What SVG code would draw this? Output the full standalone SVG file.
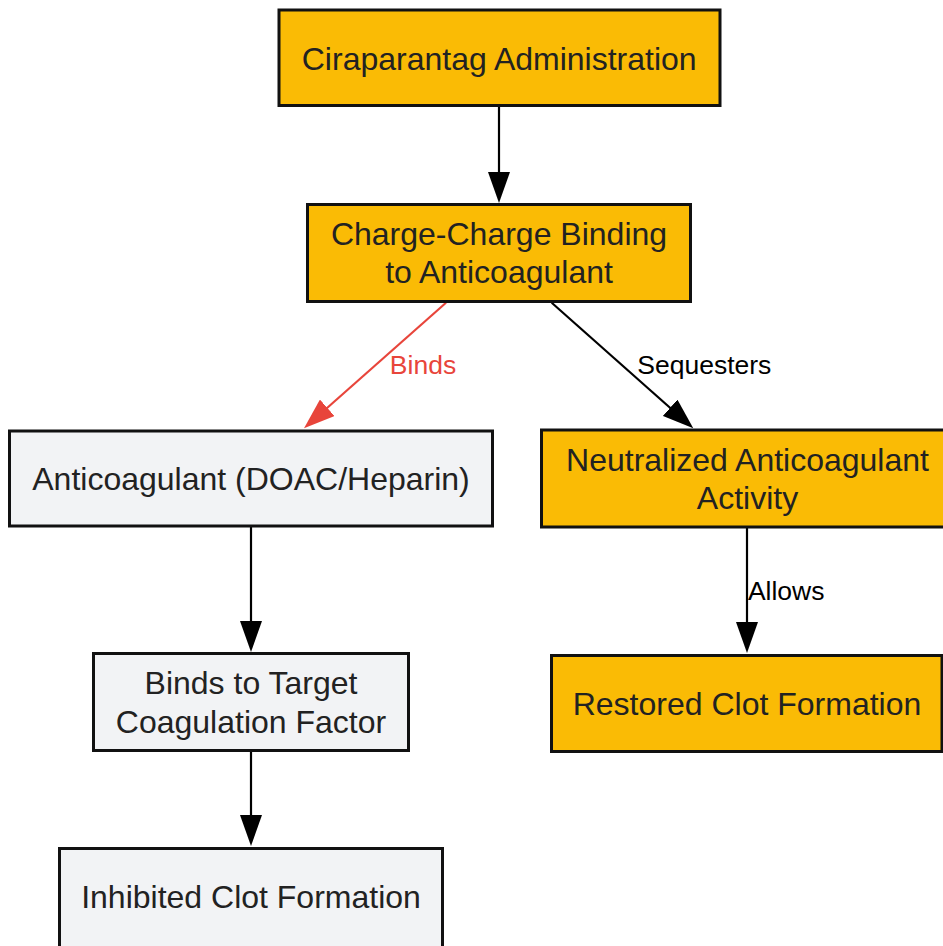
<svg xmlns="http://www.w3.org/2000/svg" width="943" height="946" viewBox="0 0 943 946">
<style>
.bg{fill:#ffffff}
.acc rect{fill:#FABB05;stroke:#111;stroke-width:3}
.neu rect{fill:#F2F3F5;stroke:#111;stroke-width:3}
.nt{font-family:"Liberation Sans",Arial,sans-serif;font-size:32px;fill:#222;text-anchor:middle}
.lbl{font-family:"Liberation Sans",Arial,sans-serif;font-size:26.5px;fill:#000;text-anchor:middle}
.e{stroke:#000;stroke-width:2.2;fill:none}
.er{stroke:#E8453B;stroke-width:2.2;fill:none}
</style>
<defs>
<marker id="ah" markerUnits="userSpaceOnUse" markerWidth="31" markerHeight="22" refX="21" refY="11" orient="auto">
<path d="M0,0 L31,11 L0,22 Z" fill="#000"/>
</marker>
<marker id="ahr" markerUnits="userSpaceOnUse" markerWidth="31" markerHeight="22" refX="21" refY="11" orient="auto">
<path d="M0,0 L31,11 L0,22 Z" fill="#E8453B"/>
</marker>
</defs>
<rect class="bg" x="0" y="0" width="943" height="946"/>
<g id="connectors">
<line class="e" x1="499" y1="106" x2="499" y2="193" marker-end="url(#ah)"/>
<line class="er" x1="446" y1="302.7" x2="311.5" y2="421.7" marker-end="url(#ahr)"/>
<line class="e" x1="551.7" y1="302.7" x2="685.8" y2="421.7" marker-end="url(#ah)"/>
<line class="e" x1="747" y1="527" x2="747" y2="643" marker-end="url(#ah)"/>
<line class="e" x1="251" y1="526" x2="251" y2="642" marker-end="url(#ah)"/>
<line class="e" x1="251" y1="751" x2="251" y2="836" marker-end="url(#ah)"/>
<text class="lbl" x="423" y="374.3" style="fill:#E8453B">Binds</text>
<text class="lbl" x="704.3" y="374.3">Sequesters</text>
<text class="lbl" x="786.2" y="600">Allows</text>
</g>
<g id="n1" class="acc">
<rect x="279" y="10" width="441" height="95.5"/>
<text class="nt" x="499.2" y="69.5">Ciraparantag Administration</text>
</g>
<g id="n2" class="acc">
<rect x="307.5" y="204.5" width="383" height="97"/>
<text class="nt" x="499" y="244.7">Charge-Charge Binding</text>
<text class="nt" x="499" y="283">to Anticoagulant</text>
</g>
<g id="n3" class="neu">
<rect x="9.5" y="431" width="483" height="95"/>
<text class="nt" x="251" y="489.7">Anticoagulant (DOAC/Heparin)</text>
</g>
<g id="n4" class="acc">
<rect x="541.5" y="430" width="412" height="97"/>
<text class="nt" x="747.5" y="470.7">Neutralized Anticoagulant</text>
<text class="nt" x="747.5" y="509">Activity</text>
</g>
<g id="n5" class="acc">
<rect x="551.5" y="655.5" width="390.5" height="96"/>
<text class="nt" x="747" y="714.7">Restored Clot Formation</text>
</g>
<g id="n6" class="neu">
<rect x="93.5" y="653.5" width="315" height="97"/>
<text class="nt" x="251" y="694">Binds to Target</text>
<text class="nt" x="251" y="732.5">Coagulation Factor</text>
</g>
<g id="n7" class="neu">
<rect x="59.5" y="848.5" width="383" height="103"/>
<text class="nt" x="251" y="908">Inhibited Clot Formation</text>
</g>
</svg>
